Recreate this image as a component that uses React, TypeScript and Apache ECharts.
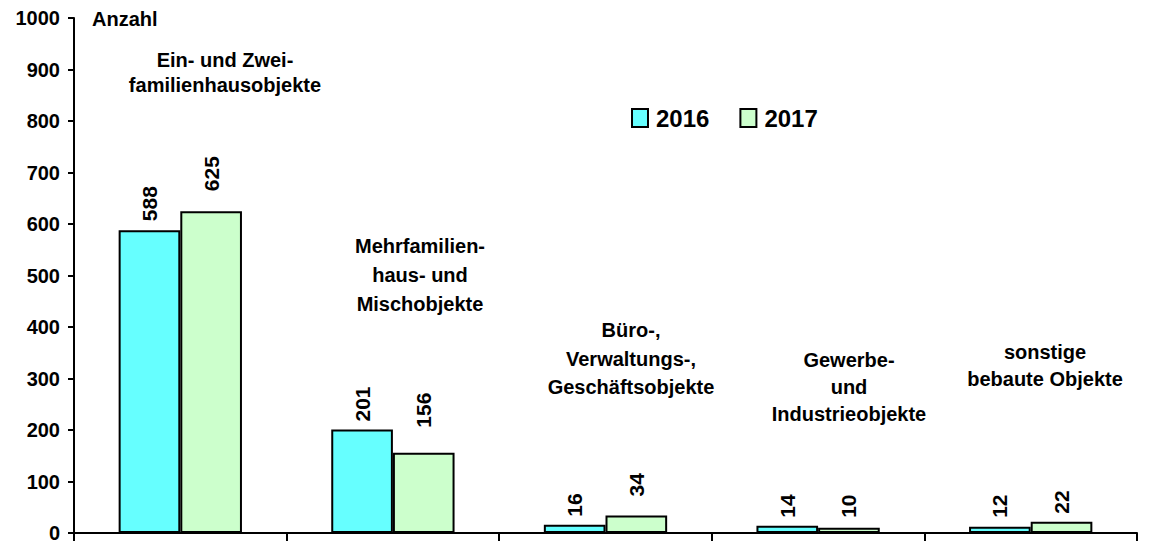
import React, { useEffect, useRef } from "react";
import * as echarts from "echarts";

// ---- data ----
const categories = [
  "Ein- und Zweifamilienhausobjekte",
  "Mehrfamilienhaus- und Mischobjekte",
  "Büro-, Verwaltungs-, Geschäftsobjekte",
  "Gewerbe- und Industrieobjekte",
  "sonstige bebaute Objekte",
];
const categoryLabelLines = [
  ["Ein- und Zwei-", "familienhausobjekte"],
  ["Mehrfamilien-", "haus- und", "Mischobjekte"],
  ["Büro-,", "Verwaltungs-,", "Geschäftsobjekte"],
  ["Gewerbe-", "und", "Industrieobjekte"],
  ["sonstige", "bebaute Objekte"],
];
const seriesNames = ["2016", "2017"];
const values2016 = [588, 201, 16, 14, 12];
const values2017 = [625, 156, 34, 10, 22];
const yMin = 0;
const yMax = 1000;
const yInterval = 100;
const yAxisTitle = "Anzahl";

// ---- layout / style ----
const FONT = '"Liberation Sans", Arial, sans-serif';
const colors = ["#66FFFF", "#CCFFCC"];
const labelGap2016 = [9, 8, 8, 8, 9];
const labelGap2017 = [20, 25, 19, 10, 8];
const catLabelPos = [
  { x: 225, y: 47.5, lh: 25 },
  { x: 420, y: 231, lh: 29 },
  { x: 631, y: 316, lh: 28.5 },
  { x: 849, y: 346, lh: 27 },
  { x: 1045, y: 338.5, lh: 27 },
];

export default function App() {
  const ref = useRef<HTMLDivElement>(null);
  useEffect(() => {
    if (!ref.current) return;
    const chart = echarts.init(ref.current, undefined, { renderer: "svg" });
    const mkData = (vals: number[], gaps: number[]) =>
      vals.map((v, i) => ({ value: v, label: { distance: gaps[i] } }));
    const barLabel = {
      show: true,
      position: "top",
      rotate: 90,
      align: "left",
      verticalAlign: "middle",
      fontFamily: FONT,
      fontWeight: "bold",
      fontSize: 21,
      color: "#000",
    };
    const option: any = {
      animation: false,
      backgroundColor: "#fff",
      grid: { left: 74, right: 12, top: 18, bottom: 9, containLabel: false },
      legend: {
        data: seriesNames,
        left: 626,
        top: 101,
        icon: "rect",
        itemWidth: 16,
        itemHeight: 18,
        itemGap: 30,
        textStyle: {
          fontFamily: FONT,
          fontWeight: "bold",
          fontSize: 24,
          color: "#000",
          padding: [0, 0, 0, 3],
        },
      },
      xAxis: {
        type: "category",
        data: categories,
        boundaryGap: true,
        axisLine: { show: true, lineStyle: { color: "#000", width: 2 } },
        axisTick: {
          show: true,
          interval: 0,
          length: 8,
          alignWithLabel: false,
          lineStyle: { color: "#000", width: 2 },
        },
        axisLabel: { show: false, interval: 0 },
        splitLine: { show: false },
      },
      yAxis: {
        type: "value",
        min: yMin,
        max: yMax,
        interval: yInterval,
        axisLine: { show: true, lineStyle: { color: "#000", width: 2 } },
        axisTick: { show: true, length: 6, lineStyle: { color: "#000", width: 2 } },
        axisLabel: {
          margin: 14,
          fontFamily: FONT,
          fontWeight: "bold",
          fontSize: 20,
          color: "#000",
          formatter: (v: number) => String(v),
        },
        splitLine: { show: false },
      },
      series: [
        {
          name: seriesNames[0],
          type: "bar",
          data: mkData(values2016, labelGap2016),
          barGap: "0%",
          barCategoryGap: "42%",
          itemStyle: { color: colors[0], borderColor: "#000", borderWidth: 2 },
          label: barLabel,
        },
        {
          name: seriesNames[1],
          type: "bar",
          data: mkData(values2017, labelGap2017),
          barGap: "0%",
          barCategoryGap: "42%",
          itemStyle: { color: colors[1], borderColor: "#000", borderWidth: 2 },
          label: barLabel,
        },
      ],
      graphic: [
        {
          type: "text",
          x: 92,
          y: 19,
          style: {
            text: yAxisTitle,
            font: `bold 20px ${FONT}`,
            fill: "#000",
            textAlign: "left",
            textVerticalAlign: "middle",
          },
        },
        ...categoryLabelLines.map((lines, i) => ({
          type: "text",
          x: catLabelPos[i].x,
          y: catLabelPos[i].y,
          style: {
            text: lines.join("\n"),
            font: `bold 20px ${FONT}`,
            lineHeight: catLabelPos[i].lh,
            fill: "#000",
            textAlign: "center",
            textVerticalAlign: "top",
          },
        })),
      ],
    };
    chart.setOption(option);
    return () => chart.dispose();
  }, []);
  return (
    <div
      ref={ref}
      style={{ position: "fixed", left: 0, top: 0, width: 1149, height: 543, background: "#fff" }}
    />
  );
}
